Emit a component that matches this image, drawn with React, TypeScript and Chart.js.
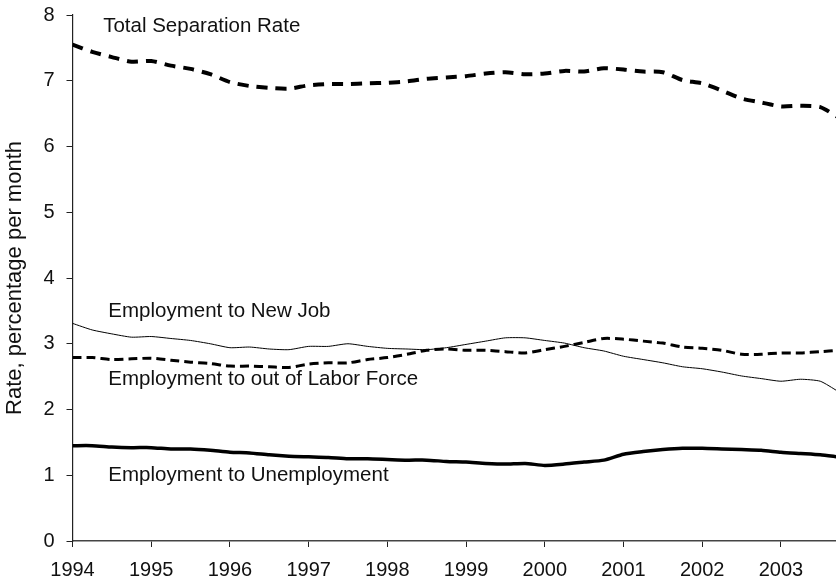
import React, { useEffect, useRef } from "react";
import { Chart, registerables } from "chart.js";

Chart.register(...registerables);

// Quarterly time points (decimal years)
const periods: number[] = [
  1994.0, 1994.25, 1994.5, 1994.75, 1995.0, 1995.25, 1995.5, 1995.75,
  1996.0, 1996.25, 1996.5, 1996.75, 1997.0, 1997.25, 1997.5, 1997.75,
  1998.0, 1998.25, 1998.5, 1998.75, 1999.0, 1999.25, 1999.5, 1999.75,
  2000.0, 2000.25, 2000.5, 2000.75, 2001.0, 2001.25, 2001.5, 2001.75,
  2002.0, 2002.25, 2002.5, 2002.75, 2003.0, 2003.25, 2003.5, 2003.72,
];

const totalSeparation: number[] = [
  7.55, 7.44, 7.36, 7.29, 7.30, 7.23, 7.18, 7.10,
  6.98, 6.92, 6.89, 6.88, 6.93, 6.95, 6.95, 6.96,
  6.97, 6.99, 7.03, 7.05, 7.07, 7.11, 7.13, 7.10,
  7.11, 7.15, 7.14, 7.19, 7.17, 7.14, 7.13, 7.01,
  6.96, 6.85, 6.73, 6.67, 6.61, 6.62, 6.60, 6.45,
];

const toNewJob: number[] = [
  3.31, 3.21, 3.15, 3.10, 3.11, 3.08, 3.05, 3.00,
  2.94, 2.95, 2.92, 2.91, 2.96, 2.96, 3.00, 2.96,
  2.93, 2.92, 2.91, 2.94, 2.99, 3.04, 3.09, 3.09,
  3.05, 3.01, 2.94, 2.89, 2.81, 2.76, 2.71, 2.65,
  2.62, 2.57, 2.51, 2.47, 2.43, 2.46, 2.43, 2.28,
];

const toOutOfLaborForce: number[] = [
  2.79, 2.79, 2.76, 2.77, 2.78, 2.75, 2.72, 2.70,
  2.66, 2.66, 2.65, 2.64, 2.69, 2.71, 2.71, 2.76,
  2.79, 2.84, 2.90, 2.92, 2.90, 2.90, 2.88, 2.86,
  2.91, 2.96, 3.02, 3.08, 3.07, 3.04, 3.01, 2.95,
  2.93, 2.90, 2.84, 2.84, 2.86, 2.86, 2.88, 2.90,
];

const toUnemployment: number[] = [
  1.45, 1.45, 1.43, 1.42, 1.42, 1.40, 1.40, 1.38,
  1.35, 1.34, 1.31, 1.29, 1.28, 1.27, 1.25, 1.25,
  1.24, 1.23, 1.23, 1.21, 1.20, 1.18, 1.17, 1.18,
  1.15, 1.17, 1.20, 1.23, 1.32, 1.36, 1.39, 1.41,
  1.41, 1.40, 1.39, 1.38, 1.35, 1.33, 1.31, 1.28,
];

const seriesLabels: string[] = [
  "Total Separation Rate",
  "Employment to New Job",
  "Employment to out of Labor Force",
  "Employment to Unemployment",
];

// Annotation anchors in data coordinates [year, value]
const labelYears: number[] = [1994.39, 1994.455, 1994.455, 1994.455];
const labelValues: number[] = [7.74, 3.4, 2.37, 0.91];

const yTitle = "Rate, percentage per month";
const FONT = '"Liberation Sans", Arial, Helvetica, sans-serif';

const toPoints = (vals: number[]) => vals.map((v, i) => ({ x: periods[i], y: v }));

const annotationPlugin = {
  id: "seriesLabels",
  afterDatasetsDraw(chart: any) {
    const { ctx, scales } = chart;
    ctx.save();
    ctx.font = `20.5px ${FONT}`;
    ctx.fillStyle = "#111";
    ctx.textAlign = "left";
    ctx.textBaseline = "alphabetic";
    seriesLabels.forEach((t, i) => {
      ctx.fillText(t, scales.x.getPixelForValue(labelYears[i]), scales.y.getPixelForValue(labelValues[i]));
    });
    ctx.restore();
  },
};

export default function App() {
  const ref = useRef<HTMLCanvasElement | null>(null);

  useEffect(() => {
    if (!ref.current) return;
    const chart = new Chart(ref.current, {
      type: "line",
      data: {
        datasets: [
          {
            label: seriesLabels[0],
            data: toPoints(totalSeparation),
            borderColor: "#000",
            borderWidth: 4,
            borderDash: [11, 8],
            pointRadius: 0,
            tension: 0.25,
            fill: false,
          },
          {
            label: seriesLabels[1],
            data: toPoints(toNewJob),
            borderColor: "#000",
            borderWidth: 1,
            pointRadius: 0,
            tension: 0.2,
            fill: false,
          },
          {
            label: seriesLabels[2],
            data: toPoints(toOutOfLaborForce),
            borderColor: "#000",
            borderWidth: 3,
            borderDash: [9, 5],
            pointRadius: 0,
            tension: 0.25,
            fill: false,
          },
          {
            label: seriesLabels[3],
            data: toPoints(toUnemployment),
            borderColor: "#000",
            borderWidth: 3.5,
            pointRadius: 0,
            tension: 0.2,
            fill: false,
          },
        ],
      },
      options: {
        responsive: false,
        animation: false,
        devicePixelRatio: 1,
        layout: { padding: { top: 15, left: 0, right: 0, bottom: 0 } },
        plugins: {
          legend: { display: false },
          tooltip: { enabled: false },
        },
        scales: {
          x: {
            type: "linear",
            min: 1994,
            max: 2003.7,
            afterFit: (s: any) => {
              s.height = 41;
            },
            border: { display: true, color: "#444", width: 1.5 },
            grid: {
              display: true,
              drawOnChartArea: false,
              drawTicks: true,
              tickLength: 6,
              color: "#222",
              lineWidth: 1,
            },
            ticks: {
              stepSize: 1,
              includeBounds: false,
              autoSkip: false,
              maxRotation: 0,
              padding: 11,
              color: "#111",
              font: { family: FONT, size: 20 },
              callback: (v: any) => String(v),
            },
          },
          y: {
            min: 0,
            max: 8,
            afterFit: (s: any) => {
              s.width = 72.5;
              s.paddingTop = 0;
              s.paddingBottom = 0;
            },
            border: { display: true, color: "#222", width: 1.2 },
            grid: {
              display: true,
              drawOnChartArea: false,
              drawTicks: true,
              tickLength: 6,
              color: "#222",
              lineWidth: 1,
            },
            ticks: {
              stepSize: 1,
              padding: 12,
              color: "#111",
              font: { family: FONT, size: 20 },
            },
            title: {
              display: true,
              text: yTitle,
              color: "#111",
              font: { family: FONT, size: 22 },
              padding: { top: 2, bottom: 0 },
            },
          },
        },
      },
      plugins: [annotationPlugin],
    });
    return () => chart.destroy();
  }, []);

  return (
    <div style={{ position: "absolute", left: 0, top: 0, width: 836, height: 582, background: "#fff" }}>
      <canvas ref={ref} width={836} height={582} style={{ display: "block" }} />
    </div>
  );
}
